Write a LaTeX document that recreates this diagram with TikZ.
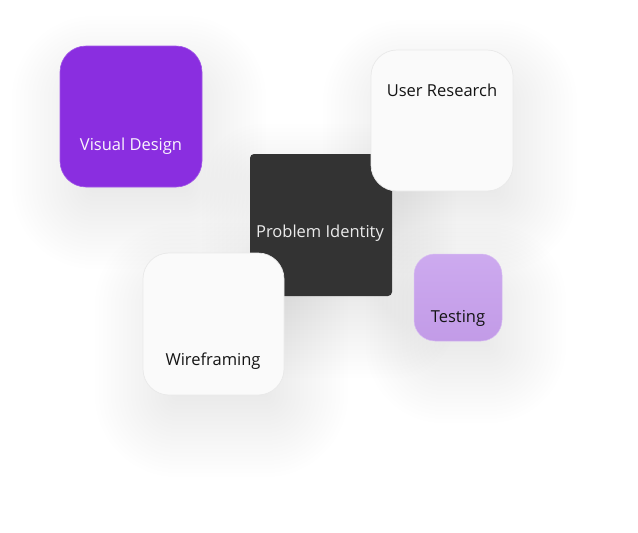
\documentclass[tikz,border=0pt]{standalone}
\usepackage{fontspec}
\setmainfont{Open Sans}
\definecolor{vdpurple}{HTML}{8A2EE0}
\definecolor{darkbox}{HTML}{333333}
\definecolor{lightbox}{HTML}{FAFAFA}
\definecolor{lightborder}{HTML}{E9E9E9}
\definecolor{lavtop}{HTML}{CDAAEF}
\definecolor{lavbot}{HTML}{C29BE7}
\definecolor{textdark}{HTML}{141414}
% soft shadow: #1,#2 = top-left, #3,#4 = bottom-right, #5 = corner radius
\newcommand\mysoftshadow[5]{%
  \foreach \k in {0,...,21}{%
    \pgfmathsetmacro\ee{-28+4*\k}%
    \pgfmathsetmacro\rr{max(2,#5+\ee)}%
    \fill[black, fill opacity=0.004, rounded corners=\rr pt]
      ({#1-\ee+8},{#2-\ee+26}) rectangle ({#3+\ee+8},{#4+\ee+26});
  }%
}
\begin{document}
\begin{tikzpicture}[x=1pt,y=-1pt,
  card/.style={inner sep=0pt, outer sep=0pt},
  lbl/.style={font=\fontsize{16.5}{19}\selectfont, inner sep=0pt, anchor=base}
]
\useasboundingbox[fill=white] (0,0) rectangle (638,533);
% shadows
\mysoftshadow{60}{46}{202}{187}{26}
\mysoftshadow{250}{154}{392}{296}{4}
\mysoftshadow{371}{50}{513}{191}{26}
\mysoftshadow{143}{253}{284}{395}{26}
\mysoftshadow{414}{254}{502}{341}{21}
% Visual Design
\node[card, rounded corners=26pt, fill=vdpurple, draw=vdpurple!80!white, line width=0.6pt,
  minimum width=142pt, minimum height=141pt] (vd) at (131,116.5) {};
\node[lbl, text=white!95!vdpurple] (vdt) at (131,150.7) {Visual Design};
% Problem Identity
\node[card, rounded corners=4pt, fill=darkbox,
  minimum width=142pt, minimum height=142pt] (pi) at (321,225) {};
\node[lbl, text=white!92!black] (pit) at (320,237.3) {Problem Identity};
% User Research
\node[card, rounded corners=26pt, fill=lightbox, draw=lightborder, line width=0.7pt,
  minimum width=142pt, minimum height=141pt] (ur) at (442,120.5) {};
\node[lbl, text=textdark] (urt) at (442,96.7) {User Research};
% Wireframing
\node[card, rounded corners=26pt, fill=lightbox, draw=lightborder, line width=0.7pt,
  minimum width=141pt, minimum height=142pt] (wf) at (213.5,324) {};
\node[lbl, text=textdark] (wft) at (213,365) {Wireframing};
% Testing
\node[card, rounded corners=21pt, top color=lavtop, bottom color=lavbot, draw=lavtop!80!white, line width=0.5pt,
  minimum width=88pt, minimum height=87pt] (ts) at (458,297.5) {};
\node[lbl, text=textdark] (tst) at (458,322) {Testing};
\end{tikzpicture}
\end{document}
